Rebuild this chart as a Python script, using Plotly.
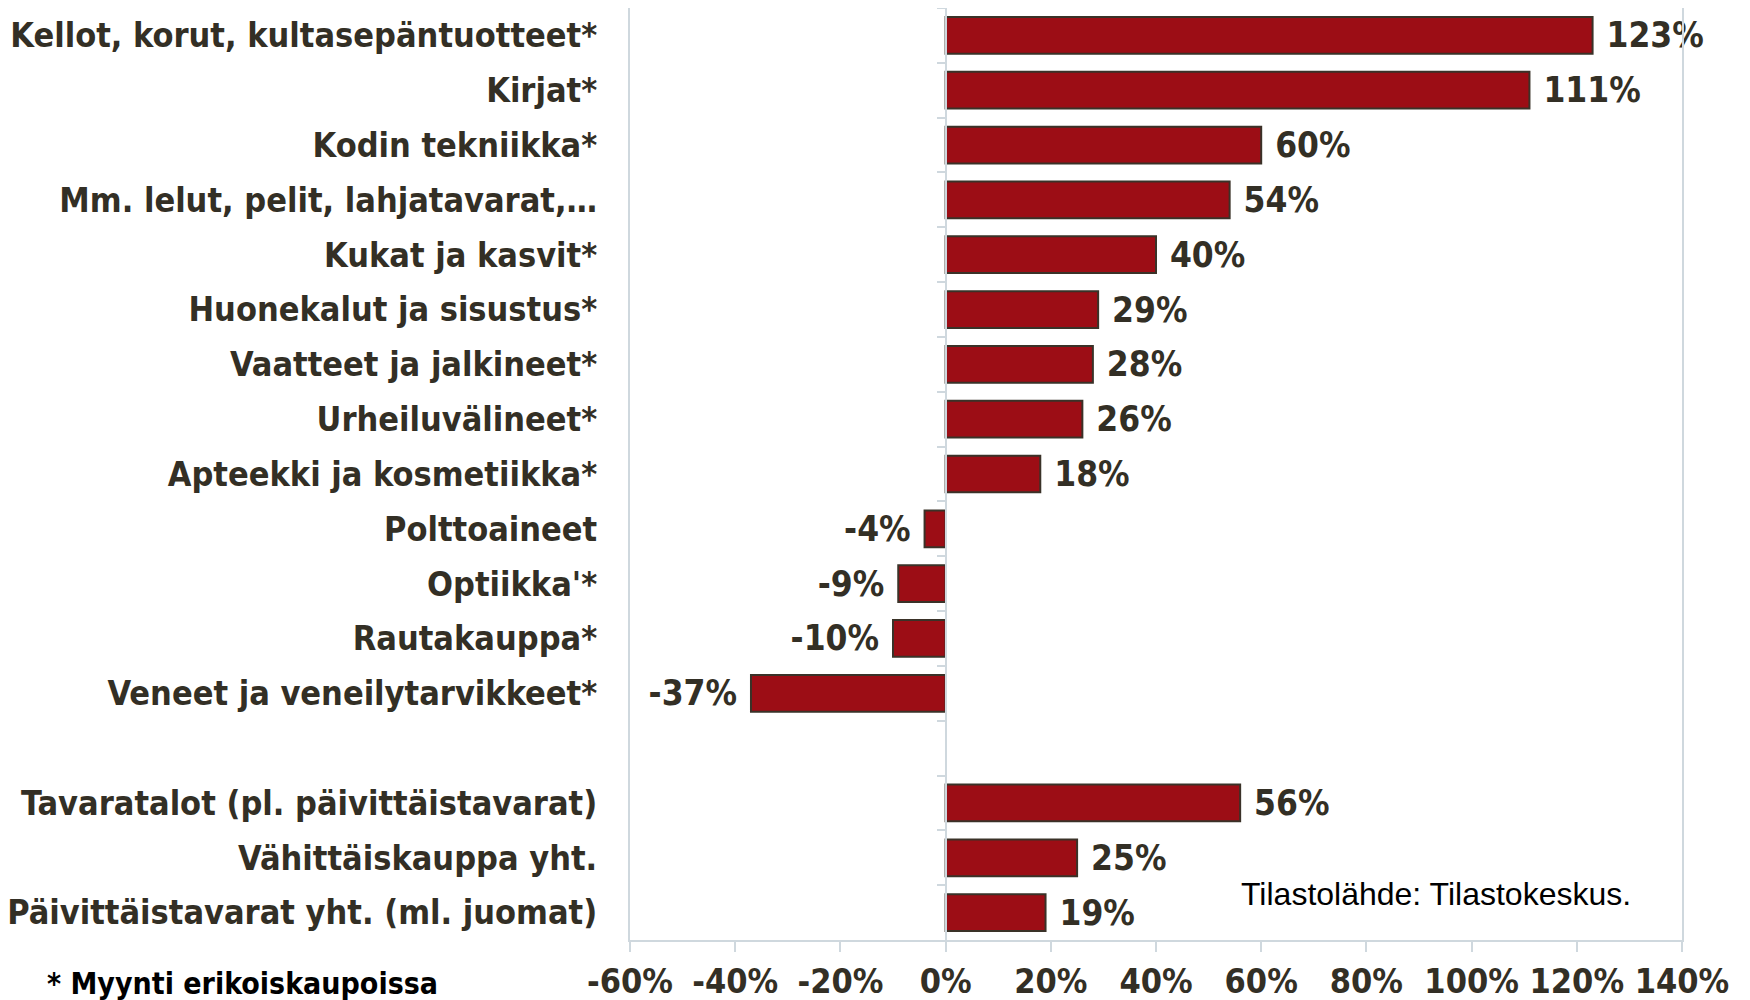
import plotly.graph_objects as go

categories = [
    "Kellot, korut, kultasepäntuotteet*",
    "Kirjat*",
    "Kodin tekniikka*",
    "Mm. lelut, pelit, lahjatavarat,…",
    "Kukat ja kasvit*",
    "Huonekalut ja sisustus*",
    "Vaatteet ja jalkineet*",
    "Urheiluvälineet*",
    "Apteekki ja kosmetiikka*",
    "Polttoaineet",
    "Optiikka'*",
    "Rautakauppa*",
    "Veneet ja veneilytarvikkeet*",
    " ",
    "Tavaratalot (pl. päivittäistavarat)",
    "Vähittäiskauppa yht.",
    "Päivittäistavarat yht. (ml. juomat)",
]
values = [123, 111, 60, 54, 40, 29, 28, 26, 18, -4, -9, -10, -37, None, 56, 25, 19]
# a space on the outer side keeps the label off the bar end
labels = ["" if v is None else (f" {v}%" if v >= 0 else f"{v}% ") for v in values]

x_ticks = [-60, -40, -20, 0, 20, 40, 60, 80, 100, 120, 140]
x_ticktext = [f"{t}%" for t in x_ticks]

narrow = "DejaVu Sans Condensed, Liberation Sans Narrow, Arial Narrow, sans-serif"
txt_col = "#332f25"
grid_col = "#cfd8de"

fig = go.Figure()
fig.add_trace(go.Bar(
    x=values, y=categories, orientation="h",
    marker=dict(color="#9c0d15", line=dict(color="#3a3228", width=2)),
    text=labels, textposition="outside", cliponaxis=False, constraintext="none",
    textfont=dict(family=narrow, size=35, color=txt_col, weight="bold"),
    width=0.67, showlegend=False,
))
# helper trace for the zero-line axis with small ticks
fig.add_trace(go.Bar(x=[None] * len(categories), y=categories, orientation="h",
                     yaxis="y2", showlegend=False, hoverinfo="skip"))

# page body has an 8px margin, so the figure is a bit smaller than the window
fig.update_layout(
    width=1742, height=992,
    margin=dict(l=622, r=68, t=0, b=60),
    plot_bgcolor="white", paper_bgcolor="white",
    font=dict(family=narrow, color=txt_col),
    xaxis=dict(
        range=[-60, 140], tickvals=x_ticks, ticktext=x_ticktext,
        showgrid=False, zeroline=False, automargin=False, tickangle=0,
        showline=True, linecolor=grid_col, linewidth=2, mirror=True,
        ticks="outside", ticklen=10, tickcolor=grid_col, tickwidth=2,
        tickfont=dict(family=narrow, size=34, color=txt_col, weight="bold"),
        domain=[0, 1],
    ),
    yaxis=dict(
        categoryorder="array", categoryarray=categories,
        autorange=False, range=[len(categories) - 0.5, -0.5],
        showgrid=False, zeroline=False, automargin=False,
        showline=True, linecolor=grid_col, linewidth=2, mirror=True,
        ticks="", ticklabelstandoff=24,
        tickfont=dict(family=narrow, size=34, color=txt_col, weight="bold"),
    ),
    yaxis2=dict(
        matches="y", overlaying="y", anchor="free", position=0.3,
        showticklabels=False, showgrid=False, zeroline=False, automargin=False,
        showline=True, linecolor=grid_col, linewidth=2,
        ticks="outside", tickson="boundaries", ticklen=8,
        tickcolor=grid_col, tickwidth=2,
    ),
)

fig.add_annotation(
    text="* Myynti erikoiskaupoissa", xref="paper", yref="paper",
    x=-0.556, y=-0.047, xanchor="left", yanchor="middle", showarrow=False,
    font=dict(family=narrow, size=30, color="#000000", weight="bold"),
)
fig.add_annotation(
    text="Tilastolähde: Tilastokeskus.", xref="paper", yref="paper",
    x=0.579, y=0.049, xanchor="left", yanchor="middle", showarrow=False,
    font=dict(family="Liberation Sans, Arial, sans-serif", size=32, color="#000000"),
)

fig.write_html("out.html")
